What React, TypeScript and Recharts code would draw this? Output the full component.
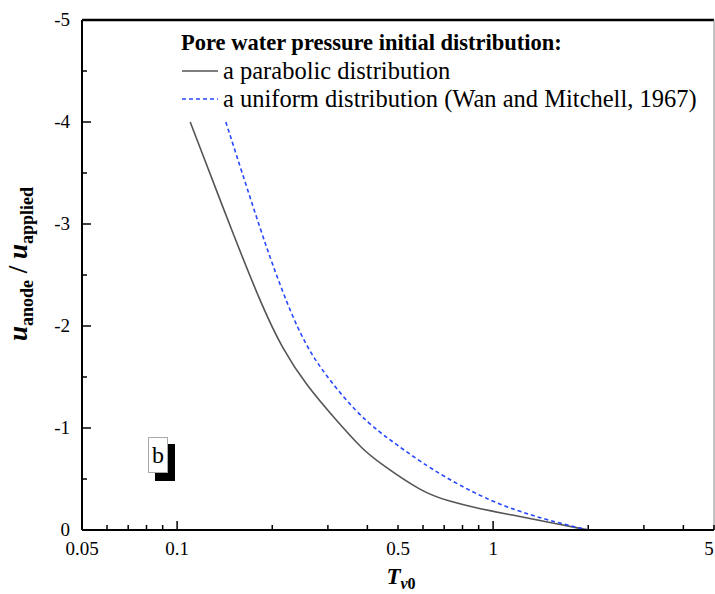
import { LineChart, Line, XAxis, YAxis, ReferenceLine, Legend } from 'recharts';

// time factor T_v0 (log axis) and normalised anode pressure
const parabolicT = [0.11, 0.1526, 0.186, 0.215, 0.256, 0.318, 0.386, 0.436, 0.596, 0.726, 0.9, 1.15, 1.47, 2.0];
const parabolicU = [-4, -2.85, -2.19, -1.78, -1.42, -1.08, -0.79, -0.66, -0.37, -0.28, -0.21, -0.147, -0.08, 0];
const uniformT = [0.1426, 0.181, 0.2, 0.226, 0.258, 0.303, 0.368, 0.436, 0.486, 0.627, 0.971, 1.47, 2.0];
const uniformU = [-4, -3, -2.61, -2.17, -1.78, -1.47, -1.16, -0.96, -0.856, -0.605, -0.277, -0.098, 0];

const xTicks = [0.05, 0.06, 0.07, 0.08, 0.09, 0.1, 0.2, 0.3, 0.4, 0.5, 0.6, 0.7, 0.8, 0.9, 1, 2, 3, 4, 5];
const xLabelled = [0.05, 0.1, 0.5, 1, 5];
const xMajor = [0.1, 1];
const yTicks = [-5, -4.5, -4, -3.5, -3, -2.5, -2, -1.5, -1, -0.5, 0];

const legendTitle = 'Pore water pressure initial distribution:';
const series = [
  { key: 'parabolic', name: 'a parabolic distribution', color: '#555555', dash: undefined as string | undefined },
  { key: 'uniform', name: 'a uniform distribution (Wan and Mitchell, 1967)', color: '#2747ff', dash: '4 3' },
];

const parabolic = parabolicT.map((t, i) => ({ t, u: parabolicU[i] }));
const uniform = uniformT.map((t, i) => ({ t, u: uniformU[i] }));

const FONT = '"Liberation Serif", "Times New Roman", serif';

function XTick(props: any) {
  const { x, y, payload } = props;
  const v = payload.value;
  const len = xMajor.includes(v) ? 9 : 5;
  return (
    <g>
      <line x1={x} x2={x} y1={y} y2={y - len} stroke="#000" strokeWidth={1.5} />
      {xLabelled.includes(v) && (
        <text x={v === 5 ? x - 5 : x} y={y + 25} textAnchor="middle" fontSize={19} fontFamily={FONT} fill="#000">
          {String(v)}
        </text>
      )}
    </g>
  );
}

function YTick(props: any) {
  const { x, y, payload } = props;
  const v = payload.value;
  const major = Number.isInteger(v);
  return (
    <g>
      <line x1={x} x2={x + (major ? 9 : 5)} y1={y} y2={y} stroke="#000" strokeWidth={1.5} />
      {major && (
        <text x={x - 12} y={y + 6} textAnchor="end" fontSize={19} fontFamily={FONT} fill="#000">
          {String(v)}
        </text>
      )}
    </g>
  );
}

function LegendBox() {
  return (
    <div style={{ fontFamily: FONT, color: '#000', whiteSpace: 'nowrap' }}>
      <div style={{ fontWeight: 'bold', fontSize: 22.5, lineHeight: '28px' }}>{legendTitle}</div>
      {series.map((s) => (
        <div key={s.key} style={{ display: 'flex', alignItems: 'center', height: 28, fontSize: 24.5 }}>
          <svg width={40} height={10} style={{ marginRight: 2 }}>
            <line x1={1} x2={37} y1={5} y2={5} stroke={s.color} strokeWidth={1.5} strokeDasharray={s.dash} />
          </svg>
          <span>{s.name}</span>
        </div>
      ))}
    </div>
  );
}

function YTitle() {
  return (
    <text transform="translate(27,264) rotate(-90)" textAnchor="middle" fontFamily={FONT} fontWeight="bold" fill="#000">
      <tspan fontSize={27} fontStyle="italic">u</tspan>
      <tspan fontSize={18} dy={6}>anode</tspan>
      <tspan fontSize={27} dy={-6}> / </tspan>
      <tspan fontSize={27} fontStyle="italic">u</tspan>
      <tspan fontSize={18} dy={6}>applied</tspan>
    </text>
  );
}

function XTitle() {
  return (
    <text x={401} y={584} textAnchor="middle" fontFamily={FONT} fontWeight="bold" fill="#000">
      <tspan fontSize={23} fontStyle="italic">T</tspan>
      <tspan fontSize={16} dy={5} fontStyle="italic">v</tspan>
      <tspan fontSize={16}>0</tspan>
    </text>
  );
}

export default function App() {
  return (
    <div style={{ position: 'absolute', left: 0, top: 0, width: 715, height: 594, background: '#fff' }}>
      <LineChart width={715} height={594} margin={{ top: 20, right: 1, bottom: 0, left: 0 }}>
        <XAxis
          dataKey="t"
          type="number"
          scale="log"
          domain={[0.05, 5]}
          allowDataOverflow
          ticks={xTicks}
          interval={0}
          tickSize={0}
          tickMargin={0}
          tick={<XTick />}
          height={64}
          axisLine={{ stroke: '#000', strokeWidth: 2 }}
          label={<XTitle />}
        />
        <YAxis
          type="number"
          domain={[-5, 0]}
          reversed
          allowDataOverflow
          ticks={yTicks}
          interval={0}
          tickSize={0}
          tickMargin={0}
          tick={<YTick />}
          width={82}
          axisLine={{ stroke: '#000', strokeWidth: 2 }}
          label={<YTitle />}
        />
        <ReferenceLine y={-5} stroke="#000" strokeWidth={2.5} />
        <ReferenceLine x={5} stroke="#888" strokeWidth={1} />
        <Line
          data={parabolic}
          dataKey="u"
          name={series[0].name}
          type="basis"
          stroke={series[0].color}
          strokeWidth={1.6}
          dot={false}
          isAnimationActive={false}
        />
        <Line
          data={uniform}
          dataKey="u"
          name={series[1].name}
          type="basis"
          stroke={series[1].color}
          strokeWidth={1.6}
          strokeDasharray={series[1].dash}
          dot={false}
          isAnimationActive={false}
        />
        <Legend
          layout="horizontal"
          verticalAlign="middle"
          align="center"
          content={() => <LegendBox />}
          wrapperStyle={{ position: 'absolute', left: 181, top: 29, width: 530 }}
        />
      </LineChart>
      <div style={{ position: 'absolute', left: 155, top: 444, width: 20, height: 37, background: '#000' }} />
      <div
        style={{
          position: 'absolute',
          left: 148,
          top: 437,
          width: 18,
          height: 34,
          background: '#fff',
          border: '1px solid #aaa',
          fontFamily: FONT,
          fontSize: 24,
          lineHeight: '34px',
          textAlign: 'center',
        }}
      >
        b
      </div>
    </div>
  );
}
